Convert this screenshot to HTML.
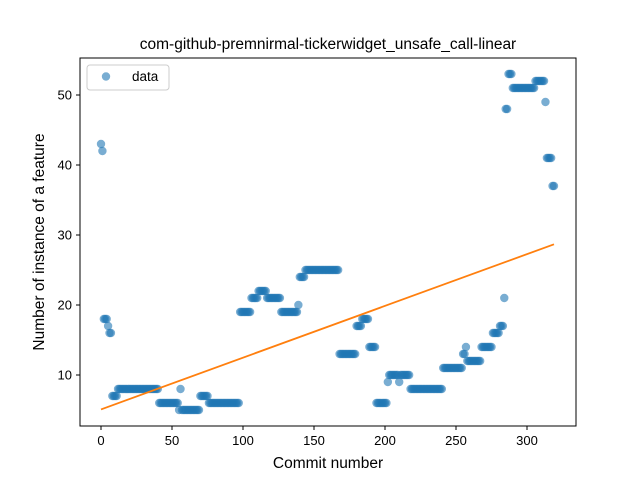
<!DOCTYPE html>
<html><head><meta charset="utf-8"><style>
html,body{margin:0;padding:0;background:#fff;}
svg{display:block;font-family:"Liberation Sans","DejaVu Sans",sans-serif;}
</style></head><body>
<svg id="chart" width="640" height="480" xmlns="http://www.w3.org/2000/svg">
<rect x="0" y="0" width="640" height="480" fill="#fff"/>
<text x="328" y="49" text-anchor="middle" font-size="15.5" fill="#000">com-github-premnirmal-tickerwidget_unsafe_call-linear</text>
<g id="plot"></g>
<rect x="80" y="58" width="496" height="368" fill="none" stroke="#000" stroke-width="1"/>
<text x="328" y="468" text-anchor="middle" font-size="15.5" fill="#000">Commit number</text>
<text transform="translate(44,242) rotate(-90)" text-anchor="middle" font-size="15.5" fill="#000">Number of instance of a feature</text>
<g>
<rect x="87" y="65" width="82" height="25" rx="3" fill="#fff" stroke="#ccc"/>
<circle cx="106" cy="76.5" r="4.2" fill="#1f77b4" fill-opacity="0.6"/>
<text x="132" y="81" font-size="13.5" fill="#000">data</text>
</g>
</svg>
<script>
// runs: [startCommit, endCommit, value]
const runStarts = [0,1,2,5,6,8,12,41,55,56,57,70,76,98,106,111,117,127,139,140,144,168,180,184,189,194,202,203,210,211,218,241,255,257,258,268,276,281,284,285,287,290,306,313,314,318];
const runEnds   = [0,1,4,5,7,11,40,54,55,56,69,75,97,105,110,116,126,138,139,143,167,179,183,188,193,201,202,209,210,217,240,254,256,257,267,275,280,283,284,286,289,305,312,313,317,319];
const runValues = [43,42,18,17,16,7,8,6,5,8,5,7,6,19,21,22,21,19,20,24,25,13,17,18,14,6,9,10,9,10,8,11,13,14,12,14,16,17,21,48,53,51,52,49,41,37];
const xTicks = [0,50,100,150,200,250,300];
const yTicks = [10,20,30,40,50];

const NS = "http://www.w3.org/2000/svg";
function xs(v){ return 101 + v*1.42; }
function ys(v){ return 375 - (v-10)*7; }
const plot = document.getElementById('plot');
const svg = document.getElementById('chart');

const xsArr=[], ysArr=[];
for(let i=0;i<runStarts.length;i++){
  for(let x=runStarts[i]; x<=runEnds[i]; x++){ xsArr.push(x); ysArr.push(runValues[i]); }
}
xsArr.forEach((x,i)=>{
  const c=document.createElementNS(NS,'circle');
  c.setAttribute('cx',xs(x)); c.setAttribute('cy',ys(ysArr[i])); c.setAttribute('r',4.2);
  c.setAttribute('fill','#1f77b4'); c.setAttribute('fill-opacity','0.6');
  
  
  plot.appendChild(c);
});
// linear fit
const n=xsArr.length;
let mx=0,my=0; for(let i=0;i<n;i++){mx+=xsArr[i];my+=ysArr[i];} mx/=n; my/=n;
let sxy=0,sxx=0; for(let i=0;i<n;i++){sxy+=(xsArr[i]-mx)*(ysArr[i]-my); sxx+=(xsArr[i]-mx)**2;}
const slope=sxy/sxx, icpt=my-slope*mx;
const x0=xsArr[0], x1=xsArr[n-1];
const ln=document.createElementNS(NS,'line');
ln.setAttribute('x1',xs(x0)); ln.setAttribute('y1',ys(icpt+slope*x0));
ln.setAttribute('x2',xs(x1)); ln.setAttribute('y2',ys(icpt+slope*x1));
ln.setAttribute('stroke','#ff7f0e'); ln.setAttribute('stroke-width','1.8');


plot.appendChild(ln);

xTicks.forEach(t=>{
  const l=document.createElementNS(NS,'line');
  l.setAttribute('x1',xs(t)); l.setAttribute('x2',xs(t)); l.setAttribute('y1',426); l.setAttribute('y2',430);
  l.setAttribute('stroke','#000');
  
  
  svg.appendChild(l);
  const tx=document.createElementNS(NS,'text');
  tx.setAttribute('x',xs(t)); tx.setAttribute('y',445); tx.setAttribute('text-anchor','middle'); tx.setAttribute('font-size','13');
  tx.textContent=t;
  
  
  svg.appendChild(tx);
});
yTicks.forEach(t=>{
  const l=document.createElementNS(NS,'line');
  l.setAttribute('x1',76); l.setAttribute('x2',80); l.setAttribute('y1',ys(t)); l.setAttribute('y2',ys(t));
  l.setAttribute('stroke','#000');
  
  
  svg.appendChild(l);
  const tx=document.createElementNS(NS,'text');
  tx.setAttribute('x',72); tx.setAttribute('y',ys(t)+4.5); tx.setAttribute('text-anchor','end'); tx.setAttribute('font-size','13');
  tx.textContent=t;
  
  
  svg.appendChild(tx);
});
</script>
</body></html>
